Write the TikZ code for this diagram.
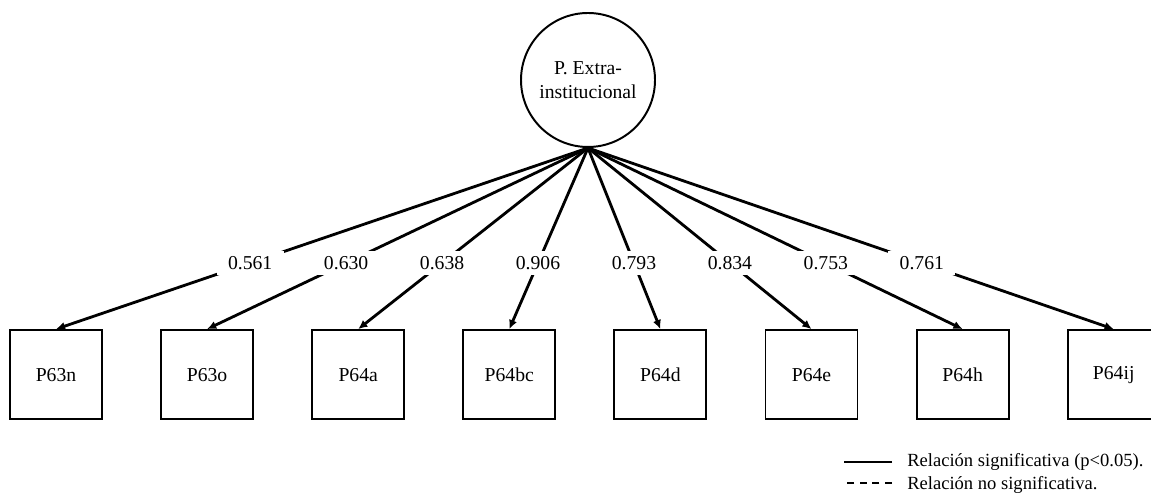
\documentclass[tikz,border=0pt]{standalone}
\usepackage{fontspec}
\setmainfont{Liberation Serif}
\usetikzlibrary{positioning,arrows.meta}

\tikzset{
  latent/.style={circle,draw,line width=1.4pt,minimum size=3.35cm,inner sep=0pt,align=center,
    font=\fontsize{14}{17}\selectfont},
  obs/.style={rectangle,draw,line width=1.4pt,minimum width=2.3cm,minimum height=2.225cm,
    font=\fontsize{14}{17}\selectfont},
  load/.style={line width=2pt,-{Latex[length=6.5pt,width=6pt]}},
  lbl/.style={fill=white,inner xsep=8pt,inner ysep=4pt,pos=0.635,font=\fontsize{14}{17}\selectfont},
  legtext/.style={anchor=west,inner sep=0pt,font=\fontsize{13.2}{15}\selectfont}
}

\begin{document}
\begin{tikzpicture}

    \useasboundingbox (0,0) rectangle (28.775,12.425);

    \node(factor) [latent] at (14.7,10.425) {P. Extra-\\institucional};

    \foreach \name [count=\i] in {P63n,P63o,P64a,P64bc,P64d,P64e,P64h,P64ij}
      \node(item\i) [obs] at ({1.4+(\i-1)*3.7775},3.06) {\name};

    \foreach \i/\w in {1/0.561,2/0.630,3/0.638,4/0.906,5/0.793,6/0.834,7/0.753,8/0.761}
      \draw[load] (factor.south) -- node[lbl] {\w} (item\i.north);

    % legend
    \node(sig) [legtext] at (22.675,0.875) {Relación significativa (p<0.05).};
    \node(nosig) [legtext] at (22.675,0.3) {Relación no significativa.};

    \coordinate (s0) at ([xshift=-0.375cm]sig.west);
    \draw[line width=1.4pt] (s0) -- ++(-1.2,0);

    \coordinate (n0) at ([xshift=-0.375cm,yshift=0.05cm]nosig.west);
    \draw[line width=1.4pt,dash pattern=on 5pt off 4pt] (n0) -- ++(-1.2,0);

  \end{tikzpicture}
\end{document}
